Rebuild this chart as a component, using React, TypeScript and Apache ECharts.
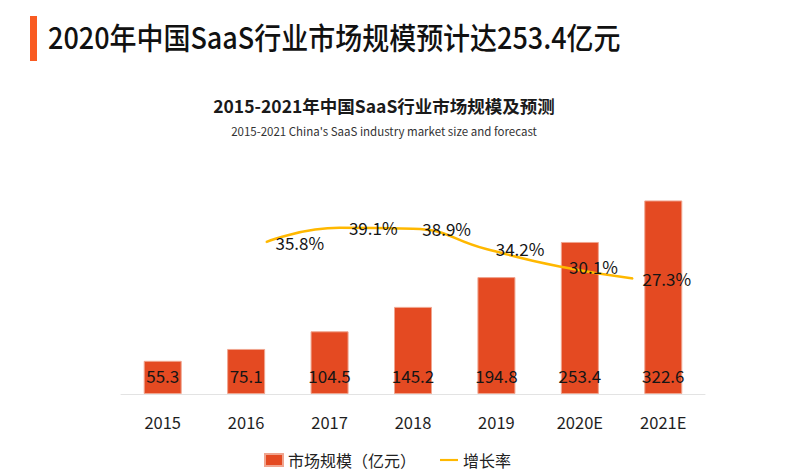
import React, { useEffect, useRef } from "react";
import * as echarts from "echarts";

const categories = ["2015", "2016", "2017", "2018", "2019", "2020E", "2021E"];
const marketSize = [55.3, 75.1, 104.5, 145.2, 194.8, 253.4, 322.6];
const growthCategories = ["2016", "2017", "2018", "2019", "2020E", "2021E"];
const growthRate = [35.8, 39.1, 38.9, 34.2, 30.1, 27.3];

const FONT = "'Noto Sans CJK SC', 'Noto Sans', sans-serif";

export default function App() {
  const ref = useRef<HTMLDivElement>(null);
  useEffect(() => {
    if (!ref.current) return;
    const chart = echarts.init(ref.current, null, { renderer: "svg" });
    chart.setOption({
      animation: false,
      backgroundColor: "#ffffff",
      textStyle: { fontFamily: FONT },
      graphic: [
        { type: "rect", shape: { x: 30, y: 16, width: 7, height: 45 }, style: { fill: "#F95B22" } },
        {
          type: "text",
          x: 48,
          y: 36,
          scaleX: 0.9,
          style: {
            text: "2020年中国SaaS行业市场规模预计达253.4亿元",
            fontSize: 30,
            fontFamily: FONT,
            fontWeight: 500,
            fill: "#111111",
            verticalAlign: "middle",
            align: "left",
          },
        },
        {
          type: "text",
          x: 384,
          y: 105,
          style: {
            text: "2015-2021年中国SaaS行业市场规模及预测",
            fontSize: 17.5,
            fontFamily: FONT,
            fontWeight: "bold",
            fill: "#1a1a1a",
            align: "center",
            verticalAlign: "middle",
          },
        },
        {
          type: "text",
          x: 384,
          y: 131,
          style: {
            text: "2015-2021 China's SaaS industry market size and forecast",
            fontSize: 11.5,
            fontFamily: FONT,
            fill: "#333333",
            align: "center",
            verticalAlign: "middle",
          },
        },
      ],
      legend: {
        left: 264,
        top: 452,
        padding: 0,
        itemGap: 24,
        itemWidth: 18,
        itemHeight: 12,
        textStyle: { fontSize: 16, color: "#222222", fontFamily: FONT },
        data: [
          { name: "市场规模（亿元）", icon: "rect" },
          { name: "增长率", icon: "path://M0 0 H20 V2.4 H0 Z" },
        ],
      },
      grid: [
        { left: 121, right: 84, top: 184, bottom: 80 },
        { left: 266, right: 156, top: 181, bottom: 78 },
      ],
      xAxis: [
        {
          type: "category",
          gridIndex: 0,
          data: categories,
          axisLine: { lineStyle: { color: "#E3E3E3", width: 1 } },
          axisTick: { show: false },
          axisLabel: { fontSize: 16.5, color: "#1e1e1e", margin: 20, fontFamily: FONT },
        },
        {
          type: "category",
          gridIndex: 1,
          data: growthCategories,
          boundaryGap: false,
          show: false,
        },
      ],
      yAxis: [
        { type: "value", gridIndex: 0, min: 0, max: 350, show: false },
        { type: "value", gridIndex: 1, min: 0, max: 50, show: false },
      ],
      series: [
        {
          name: "市场规模（亿元）",
          type: "bar",
          xAxisIndex: 0,
          yAxisIndex: 0,
          data: marketSize,
          barWidth: 38,
          itemStyle: { color: "#E44A22", borderColor: "#F0A58F", borderWidth: 1 },
          label: {
            show: true,
            position: "insideBottom",
            distance: 10,
            fontSize: 17,
            color: "#151515",
            fontFamily: FONT,
          },
        },
        {
          name: "增长率",
          type: "line",
          xAxisIndex: 1,
          yAxisIndex: 1,
          data: growthRate,
          smooth: true,
          symbol: "circle",
          symbolSize: 1,
          showSymbol: true,
          lineStyle: { color: "#FFB800", width: 2.5 },
          itemStyle: { color: "#FFB800" },
          label: {
            show: true,
            position: "right",
            distance: 9,
            fontSize: 17,
            color: "#151515",
            fontFamily: FONT,
            formatter: (p: any) => p.value.toFixed(1) + "%",
          },
          z: 5,
        },
      ],
    });
    return () => chart.dispose();
  }, []);
  return <div ref={ref} style={{ width: 789, height: 474, position: "absolute", left: 0, top: 0 }} />;
}
